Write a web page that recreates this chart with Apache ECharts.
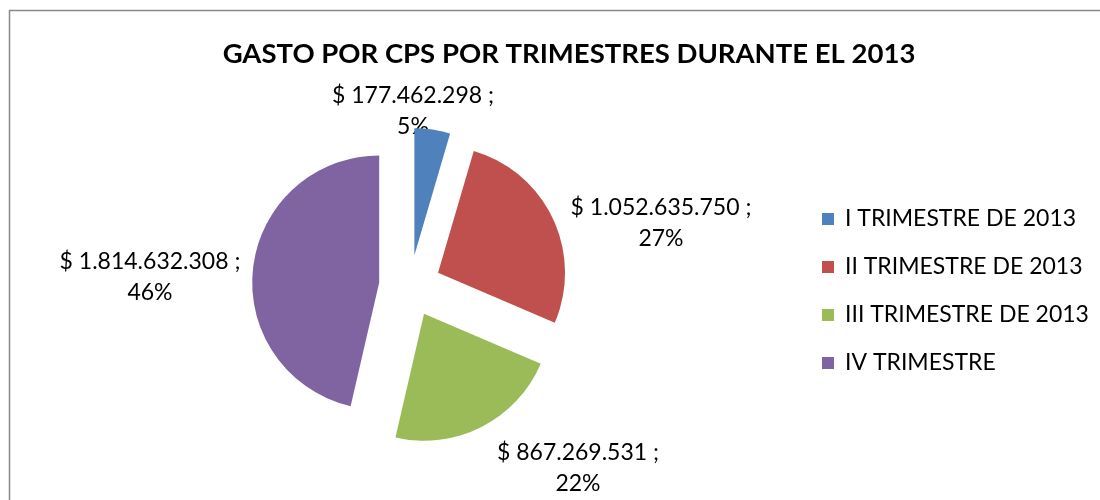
<!DOCTYPE html>
<html>
<head>
<meta charset="utf-8">
<script src="https://cdn.jsdelivr.net/npm/echarts@6/dist/echarts.min.js"></script>
<style>
  html, body { margin: 0; padding: 0; background: #fff; }
  #chart { width: 1100px; height: 500px; }
</style>
</head>
<body>
<div id="chart"></div>
<script>
  // datos del grafico
  var categorias = ['I TRIMESTRE DE 2013', 'II TRIMESTRE DE 2013', 'III TRIMESTRE DE 2013', 'IV TRIMESTRE'];
  var gastos = [177462298, 1052635750, 867269531, 1814632308];
  var colores = ['#4F81BD', '#C0504D', '#9BBB59', '#8064A2'];

  // centro de cada etiqueta (x, y)
  var labelPos = [[413, 111], [661, 223], [578, 468], [150, 277]];

  var total = 0;
  for (var i = 0; i < gastos.length; i++) {
    total += gastos[i];
  }

  function formatoPeso(n) {
    return String(n).replace(/\B(?=(\d{3})+(?!\d))/g, '.');
  }

  var fuente = 'Lato';
  var datos = [];
  var etiquetas = [];
  for (var i = 0; i < categorias.length; i++) {
    datos.push({
      name: categorias[i],
      value: gastos[i],
      selected: true,
      itemStyle: { color: colores[i] }
    });
    // etiquetas de valor y porcentaje
    etiquetas.push({
      type: 'text',
      x: labelPos[i][0],
      y: labelPos[i][1],
      silent: true,
      style: {
        text: '$ ' + formatoPeso(gastos[i]) + ' ;\n' + Math.round(gastos[i] / total * 100) + '%',
        font: '23px ' + fuente,
        lineHeight: 31,
        fill: '#000',
        align: 'center',
        verticalAlign: 'middle'
      }
    });
  }

  var chart = echarts.init(document.getElementById('chart'));
  var option = {
    animation: false,
    title: {
      text: 'GASTO POR CPS POR TRIMESTRES DURANTE EL 2013',
      left: 564,
      textAlign: 'center',
      top: 35,
      textStyle: {
        fontFamily: fuente,
        fontWeight: 'bold',
        fontSize: 27.5,
        color: '#000'
      }
    },
    legend: {
      orient: 'vertical',
      left: 817,
      top: 201,
      itemWidth: 12,
      itemHeight: 12,
      itemGap: 22,
      icon: 'rect',
      selectedMode: false,
      textStyle: {
        fontFamily: fuente,
        fontSize: 23,
        lineHeight: 26,
        color: '#000',
        padding: [0, 0, 0, 6]
      },
      data: categorias
    },
    graphic: [{
      type: 'rect',
      shape: { x: 9.5, y: 10.5, width: 1200, height: 600 },
      style: { fill: 'none', stroke: '#888', lineWidth: 1.5 },
      silent: true
    }].concat(etiquetas),
    series: [{
      type: 'pie',
      center: [410, 286],
      radius: [0, 127],
      startAngle: 90,
      clockwise: true,
      selectedMode: 'multiple',
      selectedOffset: 31,
      label: { show: false },
      labelLine: { show: false },
      emphasis: { disabled: true },
      data: datos
    }]
  };
  chart.setOption(option);
</script>
</body>
</html>
